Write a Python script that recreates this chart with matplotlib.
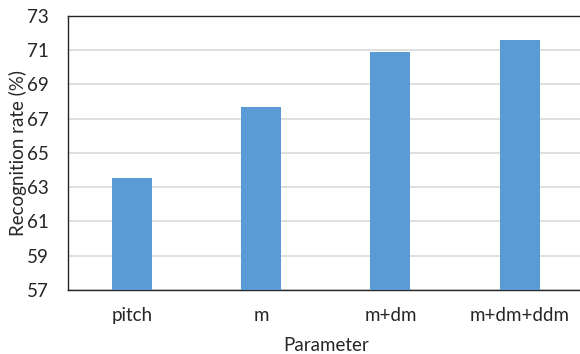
import numpy as np
import matplotlib.pyplot as plt

params = ['pitch', 'm', 'm+dm', 'm+dm+ddm']
rates = [63.55, 67.7, 70.9, 71.6]
yticks = [57, 59, 61, 63, 65, 67, 69, 71, 73]

plt.rcParams['font.family'] = ['Lato', 'DejaVu Sans']

fig = plt.figure(figsize=(5.8, 3.54), dpi=100)
ax = fig.add_axes([0.117, 0.181, 0.89, 0.774])

x = np.arange(len(params))
ax.bar(x, rates, width=0.31, color='#5b9bd5', zorder=3)

ax.set_xlim(-0.5, len(params) - 0.5)
ax.set_ylim(57, 73)
ax.set_yticks(yticks)
ax.set_xticks(x)
ax.set_xticklabels(params)
ax.yaxis.grid(True, color='#d9d9d9', linewidth=1.2, zorder=0)
ax.tick_params(axis='both', length=0, labelsize=13.5, colors='#262626')
ax.tick_params(axis='x', pad=12)
ax.tick_params(axis='y', pad=14)

for s in ['left', 'top', 'bottom', 'right']:
    ax.spines[s].set_color('#262626')
    ax.spines[s].set_linewidth(1.0)

ax.set_xlabel('Parameter', fontsize=13.5, color='#262626', labelpad=10)
ax.set_ylabel('Recognition rate (%)', fontsize=13.5, color='#262626', labelpad=0)

fig.savefig('out.png', dpi=100)
